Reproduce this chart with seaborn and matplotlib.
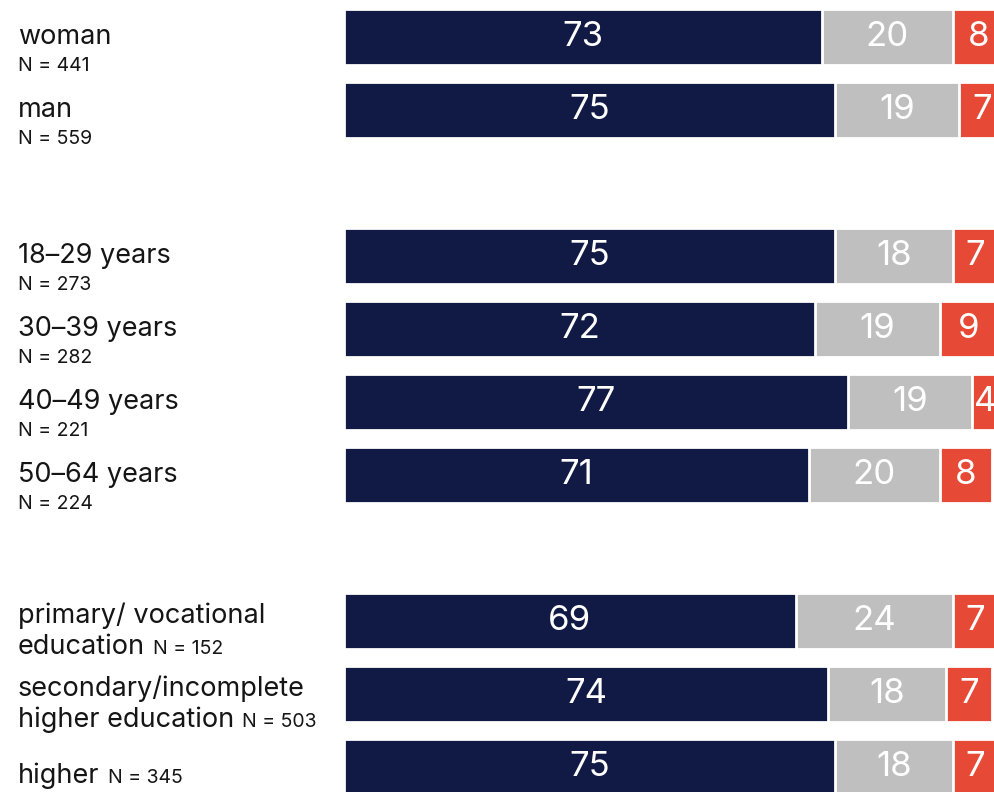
import numpy as np
import pandas as pd
import matplotlib
matplotlib.use("Agg")
import matplotlib.pyplot as plt
import seaborn as sns

# donnees
categories = ["woman", "man",
              "18–29 years", "30–39 years", "40–49 years", "50–64 years",
              "primary/ vocational\neducation", "secondary/incomplete\nhigher education", "higher"]
groups = ["gender", "gender", "age", "age", "age", "age", "edu", "edu", "edu"]
n_sizes = [441, 559, 273, 282, 221, 224, 152, 503, 345]
yes_vals = [73, 75, 75, 72, 77, 71, 69, 74, 75]
unsure_vals = [20, 19, 18, 19, 19, 20, 24, 18, 18]
no_vals = [8, 7, 7, 9, 4, 8, 7, 7, 7]

NAVY = "#111a45"
GREY = "#bfbfbf"
RED = "#e64a37"
TXT = "#151515"

sns.set_theme(style="white")
plt.rcParams["font.family"] = ["Inter", "DejaVu Sans"]

# positions : une ligne vide entre les groupes
pos = []
row = 0
for i, g in enumerate(groups):
    if i > 0 and g != groups[i - 1]:
        row += 1
    pos.append(row)
    row += 1

df = pd.DataFrame({"cat": categories, "pos": pos, "group": groups, "n": n_sizes,
                   "yes": yes_vals, "unsure": unsure_vals, "no": no_vals})
df["c1"] = df["yes"]
df["c2"] = df["yes"] + df["unsure"]
df["c3"] = df["c2"] + df["no"]

fig = plt.figure(figsize=(9.94, 7.92), dpi=100)
ax = fig.add_axes([344 / 994, 0, 1 - 344 / 994, 1])

# barres empilees : on dessine les cumuls du plus long au plus court
for col, color in [("c3", RED), ("c2", GREY), ("c1", NAVY)]:
    sns.barplot(data=df, x=col, y="pos", orient="h", native_scale=True,
                color=color, saturation=1, width=0.77, edgecolor="white",
                linewidth=2, ax=ax)

# valeurs dans les segments
for _, r in df.iterrows():
    starts = [0, r["c1"], r["c2"]]
    for s, v in zip(starts, [r["yes"], r["unsure"], r["no"]]):
        ax.text(s + v / 2, r["pos"], str(v), ha="center", va="center",
                color="white", fontsize=25, fontweight="normal", clip_on=True)

ax.set_xlim(0, 99.3)
ax.set_ylim(pos[-1] + 0.34, -0.507)
ax.axis("off")

# etiquettes a gauche (placees sur la ligne de base, en pixels)
fig.canvas.draw()
renderer = fig.canvas.get_renderer()
xl = 18 / 994
BIG, SMALL = 19.5, 14


def put(ypx, s, size):
    return fig.text(xl, 1 - ypx / 792, s, ha="left", va="baseline", fontsize=size, color=TXT)


def put_n_after(t, ypx, n):
    bb = t.get_window_extent(renderer)
    fig.text((bb.x1 + 8) / 994, 1 - ypx / 792, f"N = {n}", ha="left",
             va="baseline", fontsize=SMALL, color=TXT)


for _, r in df.iterrows():
    yc = 37 + r["pos"] * 73
    if r["group"] != "edu":
        put(yc + 7, r["cat"], BIG)
        put(yc + 34, f"N = {r['n']}", SMALL)
    else:
        lines = r["cat"].split("\n")
        if len(lines) == 2:
            put(yc + 2, lines[0], BIG)
            t = put(yc + 33, lines[1], BIG)
            put_n_after(t, yc + 33, r["n"])
        else:
            t = put(yc + 16, lines[0], BIG)
            put_n_after(t, yc + 16, r["n"])

fig.savefig("out.png", dpi=100)
